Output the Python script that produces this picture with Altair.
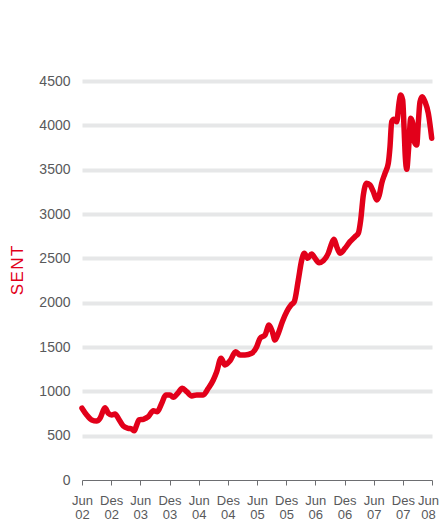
import altair as alt
import pandas as pd

# months since June 2002 and values in "sen"
months = [0, 0.97, 2.0, 3.02, 3.70, 4.73, 5.41, 6.11, 6.79, 7.47, 8.50, 9.52, 10.22, 10.76,
          11.25, 11.73, 12.61, 13.64, 14.67, 15.49, 16.40, 17.22, 18.10, 18.78, 19.69, 20.63,
          21.54, 22.57, 23.60, 24.95, 25.98, 27.01, 27.71, 28.60, 29.42, 30.45, 31.62, 32.50,
          33.53, 34.91, 35.94, 36.62, 37.65, 38.47, 39.15, 39.70, 40.38, 41.21, 42.11, 43.0,
          43.67, 44.50, 45.20, 45.73, 46.43, 47.25, 47.93, 48.76, 49.64, 50.67, 51.37, 51.84,
          52.40, 53.08, 54.10, 55.13, 56.16, 56.84, 57.33, 57.87, 58.57, 59.25, 59.93, 60.63,
          61.16, 61.65, 62.33, 63.01, 63.36, 63.71, 64.18, 64.74, 65.21, 65.56, 65.97, 66.24,
          66.51, 66.80, 67.21, 67.62, 68.03, 68.36, 68.86, 69.18, 69.53, 70.0, 70.56, 71.24, 71.94]
values = [810, 733, 677, 665, 696, 815, 752, 733, 744, 696, 609, 583, 575, 556,
          620, 677, 685, 714, 782, 770, 865, 959, 959, 933, 978, 1034,
          996, 947, 960, 960, 1034, 1128, 1221, 1373, 1297, 1345, 1447, 1410,
          1410, 1429, 1503, 1598, 1635, 1748, 1672, 1579, 1654, 1785, 1898, 1974,
          2011, 2256, 2481, 2557, 2500, 2549, 2500, 2451, 2473, 2557, 2669, 2715,
          2631, 2557, 2613, 2688, 2744, 2782, 2932, 3214, 3346, 3327, 3252, 3158,
          3214, 3346, 3459, 3572, 3759, 4041, 4068, 4041, 4248, 4342, 4285, 3985,
          3646, 3504, 3759, 4079, 4023, 3815, 3778, 4023, 4266, 4323, 4266, 4136, 3854]

tick_months = ["Jun", "Des"] * 6 + ["Jun"]
tick_years = ["02", "02", "03", "03", "04", "04", "05", "05", "06", "06", "07", "07", "08"]
tick_values = [i * 6 for i in range(13)]
y_ticks = [0, 500, 1000, 1500, 2000, 2500, 3000, 3500, 4000, 4500]

df = pd.DataFrame({"m": months, "v": values})

mon_js = "[" + ",".join(f"'{s}'" for s in tick_months) + "]"
yr_js = "[" + ",".join(f"'{s}'" for s in tick_years) + "]"
label_expr = f"[{mon_js}[round(datum.value/6)], {yr_js}[round(datum.value/6)]]"

FONT = "Liberation Sans"
GRAY = "#58595b"
RED = "#e2001a"

chart = alt.Chart(df).mark_line(
    color=RED, strokeWidth=5.5, interpolate="monotone", strokeCap="round", strokeJoin="round"
).encode(
    x=alt.X("m:Q", scale=alt.Scale(domain=[0, 72], nice=False, zero=False),
            axis=alt.Axis(values=tick_values, labelExpr=label_expr, title=None,
                          grid=False, domainColor="#6d6e71", domainWidth=1,
                          tickColor="#6d6e71", tickSize=5, tickWidth=1,
                          labelPadding=9, labelFont=FONT, labelFontSize=13,
                          labelColor=GRAY, labelLineHeight=14, labelBaseline="top",
                          labelOffset={"condition": {"test": "datum.value == 72", "value": -4}, "value": 0},
                          labelFlush=False)),
    y=alt.Y("v:Q", scale=alt.Scale(domain=[0, 4500], nice=False),
            axis=alt.Axis(values=y_ticks, format="d", title="S\u200aE\u200aN\u200aT", grid=True,
                          gridColor="#e6e7e8", gridWidth=4,
                          gridOpacity={"condition": {"test": "datum.value == 0", "value": 0}, "value": 1},
                          domain=False, ticks=False, labelPadding=12,
                          labelFont=FONT, labelFontSize=14, labelColor=GRAY,
                          titleFont=FONT, titleFontSize=17, titleFontWeight="normal",
                          titleColor=RED, titleAngle=270, titleAlign="center",
                          titleBaseline="middle", titleX=-65, titleY=189)),
).properties(
    width=350, height=399,
    padding={"left": 74, "top": 73, "right": 8, "bottom": 40},
    autosize=alt.AutoSizeParams(type="none"),
).configure_view(stroke=None)

chart.save("out.html", embed_options={"renderer": "svg", "actions": False})
